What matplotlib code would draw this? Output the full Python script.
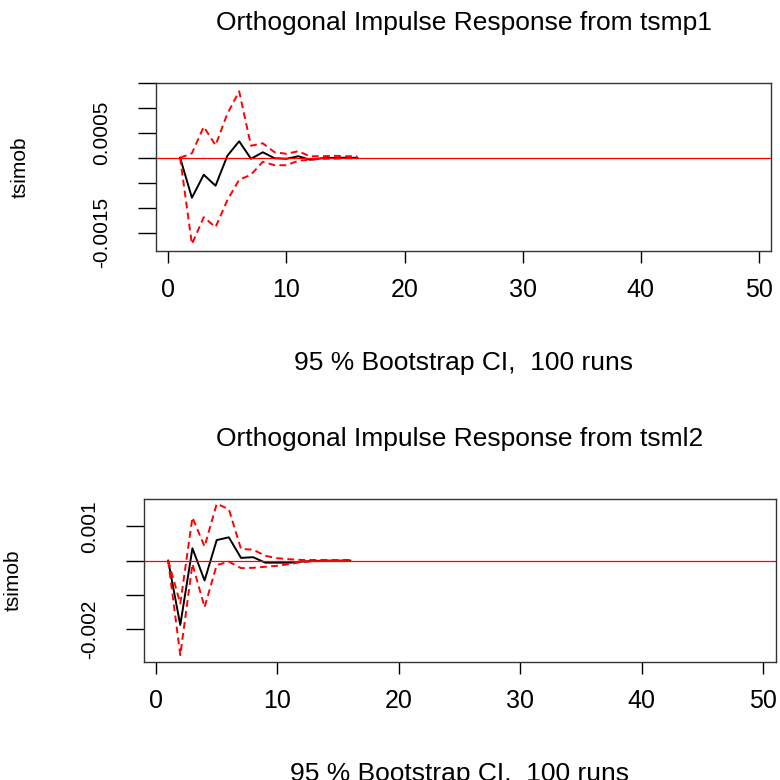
import numpy as np
import matplotlib
matplotlib.use('Agg')
import matplotlib.pyplot as plt

plt.rcParams['font.family'] = ['Liberation Sans', 'DejaVu Sans']

steps = [1, 2, 3, 4, 5, 6, 7, 8, 9, 10, 11, 12, 13, 14, 15, 16]

# response of tsimob to tsmp1
irf1 = [0, -0.00080, -0.00034, -0.00056, 0.00004, 0.00033, -0.00002, 0.00011,
        -0.00001, -0.00002, 0.00003, -0.00004, -0.00001, 0.00000, 0.00000, 0.00000]
upper1 = [0, 0.00009, 0.00062, 0.00025, 0.00088, 0.00133, 0.00024, 0.00029,
          0.00011, 0.00008, 0.00013, 0.00003, 0.00003, 0.00004, 0.00003, 0.00003]
lower1 = [0, -0.00173, -0.00119, -0.00139, -0.00085, -0.00044, -0.00034, -0.00008,
          -0.00015, -0.00015, -0.00006, -0.00004, -0.00002, -0.00002, -0.00001, -0.00001]

# response of tsimob to tsml2
irf2 = [0, -0.00188, 0.00036, -0.00058, 0.00060, 0.00068, 0.00008, 0.00010,
        -0.00006, -0.00006, -0.00006, -0.00003, -0.00001, 0.00000, 0.00000, 0.00000]
upper2 = [0, -0.00125, 0.00126, 0.00041, 0.00166, 0.00150, 0.00034, 0.00032,
          0.00014, 0.00007, 0.00004, 0.00002, 0.00002, 0.00002, 0.00002, 0.00002]
lower2 = [0, -0.00276, -0.00010, -0.00136, -0.00013, -0.00003, -0.00022, -0.00021,
          -0.00018, -0.00015, -0.00010, -0.00004, -0.00002, -0.00001, -0.00001, -0.00001]

xticks = [0, 10, 20, 30, 40, 50]
yticks1 = [-0.0015, -0.001, -0.0005, 0, 0.0005, 0.001, 0.0015]
ylabels1 = ['-0.0015', '', '', '', '0.0005', '', '']
yticks2 = [-0.002, -0.001, 0, 0.001]
ylabels2 = ['-0.002', '', '', '0.001']

titles = ['Orthogonal Impulse Response from tsmp1', 'Orthogonal Impulse Response from tsml2']
xlab = '95 % Bootstrap CI,  100 runs'

fig = plt.figure(figsize=(7.8, 7.8), dpi=100)
ax1 = fig.add_axes([0.2, 0.678, 0.789, 0.2158])
ax2 = fig.add_axes([0.1846, 0.1517, 0.810, 0.2086])

panels = [
    (ax1, irf1, upper1, lower1, yticks1, ylabels1, (-0.00187, 0.0015), (-1.04, 51.05), 45),
    (ax2, irf2, upper2, lower2, yticks2, ylabels2, (-0.00295, 0.0018), (-0.99, 51.05), 42),
]

for i, (ax, irf, up, lo, yt, yl, ylim, xlim, ypad) in enumerate(panels):
    ax.plot(steps, irf, '-', color='black', linewidth=1.4)
    ax.plot(steps, up, color='red', linestyle=(0, (3.5, 2.2)), linewidth=1.4)
    ax.plot(steps, lo, color='red', linestyle=(0, (3.5, 2.2)), linewidth=1.4)
    ax.axhline(0, color='red', linewidth=0.9)

    ax.set_xlim(xlim)
    ax.set_ylim(ylim)
    ax.set_xticks(xticks)
    ax.set_yticks(yt)
    ax.set_yticklabels(yl, rotation=90, va='center')

    ax.tick_params(axis='x', direction='out', length=8.6, width=1, pad=11, labelsize=18)
    ax.tick_params(axis='y', direction='out', length=13, width=1, pad=19, labelsize=15)
    for s in ax.spines.values():
        s.set_color('#333333')
        s.set_linewidth(1)

    ax.set_title(titles[i], fontsize=19, pad=38)
    ax.set_xlabel(xlab, fontsize=19, labelpad=35)
    ax.set_ylabel('tsimob', fontsize=15, labelpad=ypad)

plt.savefig('out.png', dpi=100)
